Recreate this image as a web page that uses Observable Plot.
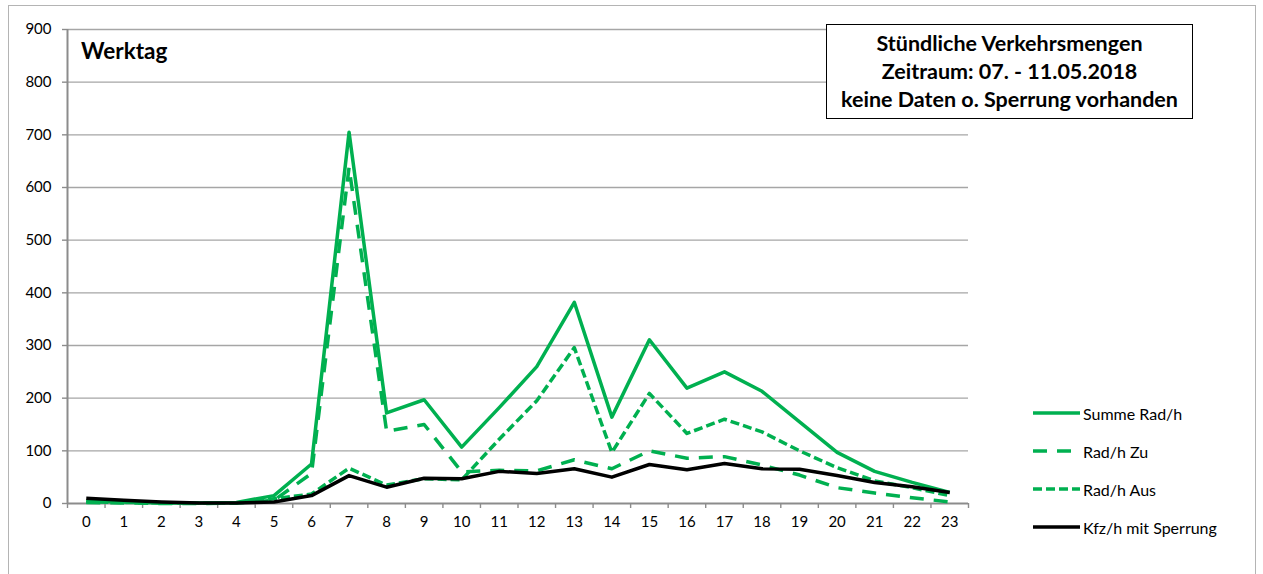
<!DOCTYPE html>
<html>
<head>
<meta charset="utf-8">
<script src="https://cdn.jsdelivr.net/npm/d3@7"></script>
<script src="https://cdn.jsdelivr.net/npm/@observablehq/plot@0.6"></script>
<style>
  html, body { margin: 0; padding: 0; background: #fff; }
  #wrap { position: relative; width: 1263px; height: 574px; overflow: hidden; font-family: Lato, "Open Sans", sans-serif; }
  #frame { position: absolute; left: 8px; top: 5px; width: 1248px; height: 600px; border: 1.5px solid #b4b4b4; box-sizing: border-box; }
  #chart { position: absolute; left: 0; top: 0; }
  #werktag { position: absolute; left: 81px; top: 37px; font-size: 22.5px; font-weight: bold; color: #000; }
  #titlebox { position: absolute; left: 826px; top: 24px; width: 367px; height: 95px; border: 1.2px solid #000; box-sizing: border-box; background: #fff;
              text-align: center; font-weight: bold; font-size: 21.5px; line-height: 28px; padding-top: 4px; color: #000; white-space: nowrap; }
  #legend { position: absolute; left: 1033px; top: 394px; }
  .lg { display: flex; align-items: center; height: 38px; font-size: 16px; color: #000; }
  .lg svg { margin-right: 3px; }
</style>
</head>
<body>
<div id="wrap">
  <div id="frame"></div>
  <div id="chart"></div>
  <div id="werktag">Werktag</div>
  <div id="titlebox">Stündliche Verkehrsmengen<br>Zeitraum: 07. - 11.05.2018<br>keine Daten o. Sperrung vorhanden</div>
  <div id="legend"></div>
</div>
<script>
const hours = [0,1,2,3,4,5,6,7,8,9,10,11,12,13,14,15,16,17,18,19,20,21,22,23];
const summeRad = [5,3,1,1,2,15,75,705,172,197,107,182,260,382,164,311,219,250,213,155,97,61,40,21];
const radZu    = [2,1,0,0,1,6,57,638,137,150,60,63,62,83,66,100,86,89,73,54,30,20,11,3];
const radAus   = [3,2,1,1,1,9,18,67,35,47,45,122,195,296,97,209,133,160,136,100,68,43,30,15];
const kfz      = [10,6,3,1,1,3,15,53,31,48,47,61,57,66,50,74,64,76,66,65,53,40,32,21];
const yTicks = [0,100,200,300,400,500,600,700,800,900];

const seriesNames = ["Summe Rad/h", "Rad/h Zu", "Rad/h Aus", "Kfz/h mit Sperrung"];
const seriesColors = ["#00b050", "#00b050", "#00b050", "#000000"];
const seriesDash = [null, "14,10", "9,4", null];
const seriesValues = [summeRad, radZu, radAus, kfz];

const table = (vals) => hours.map((h, i) => ({hour: h, value: vals[i]}));
const boundaries = hours.map(h => h - 0.5).concat([hours[hours.length - 1] + 0.5]);

const axisGray = "#8c8c8c";
const gridGray = "#a6a6a6";
const font = "Lato, 'Open Sans', sans-serif";

const lineMarks = seriesValues.map((vals, k) => Plot.lineY(table(vals), {
  x: "hour", y: "value",
  stroke: seriesColors[k], strokeWidth: 3.5,
  strokeDasharray: seriesDash[k] || undefined,
  strokeLinejoin: "round", strokeLinecap: "butt"
}));

const chart = Plot.plot({
  width: 1000, height: 560,
  marginLeft: 67, marginRight: 32, marginTop: 29, marginBottom: 57,
  style: {fontFamily: font, fontSize: "15px", color: "#000", background: "transparent"},
  x: {domain: [boundaries[0], boundaries[boundaries.length - 1]], axis: null},
  y: {domain: [0, 900], axis: null},
  marks: [
    Plot.gridY(yTicks.slice(1), {stroke: gridGray, strokeOpacity: 1, strokeWidth: 1.4}),
    Plot.axisY(yTicks, {tickSize: 5, tickPadding: 11, stroke: axisGray, strokeWidth: 1.4, label: null, fontSize: 15, fill: "#000"}),
    Plot.axisX(boundaries, {tickSize: 5, tickFormat: () => "", stroke: axisGray, strokeWidth: 1.4, label: null}),
    Plot.axisX(hours, {tickSize: 0, tickPadding: 13, label: null, fontSize: 15, fill: "#000"}),
    Plot.ruleX([boundaries[0]], {stroke: axisGray, strokeWidth: 2}),
    Plot.ruleY([0], {stroke: axisGray, strokeWidth: 2}),
    ...lineMarks
  ]
});
document.getElementById("chart").appendChild(chart);

const legend = document.getElementById("legend");
seriesNames.forEach((name, k) => {
  const row = document.createElement("div");
  row.className = "lg";
  const dash = seriesDash[k] ? `stroke-dasharray="${seriesDash[k]}"` : "";
  row.innerHTML = `<svg width="47" height="8"><line x1="0" y1="4" x2="47" y2="4" stroke="${seriesColors[k]}" stroke-width="3.5" ${dash}/></svg><span>${name}</span>`;
  legend.appendChild(row);
});
</script>
</body>
</html>
